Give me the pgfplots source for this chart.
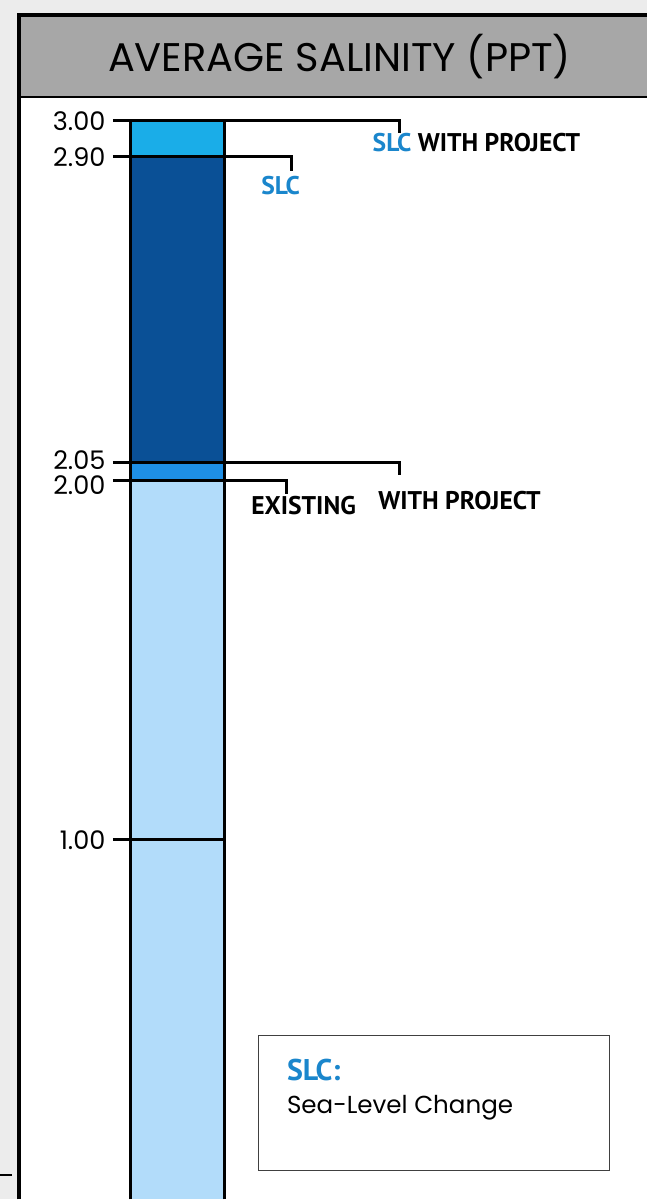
\documentclass[border=0pt]{standalone}
\usepackage{pgfplots}
\pgfplotsset{compat=1.18}
\usepackage{fontspec}
\setmainfont{Poppins}
\newfontfamily\labfont{PT Sans}
\definecolor{bgout}{HTML}{ECECEC}
\definecolor{titlegray}{HTML}{A7A7A7}
\definecolor{topblue}{HTML}{1AADE8}
\definecolor{darkblue}{HTML}{0A5096}
\definecolor{midblue}{HTML}{1E8FE6}
\definecolor{lightblue}{HTML}{B2DCFA}
\definecolor{slcblue}{HTML}{1A86CC}
\begin{document}
\begin{tikzpicture}
\begin{scope}[x=0.5pt,y=-0.5pt]
\useasboundingbox (0,0) rectangle (648,1201);
\fill[bgout] (0,0) rectangle (648,1201);
\fill[white] (19,15) rectangle (648,1201);
\fill[titlegray] (19,15) rectangle (648,97);
\draw[line width=2pt] (19,1201) -- (19,15) -- (648,15);
\draw[line width=1.2pt] (19,97) -- (648,97);
\draw[line width=1pt] (0,1177) -- (12,1177);
\node[font=\fontsize{20}{23}\selectfont] at (340,57) {AVERAGE SALINITY (PPT)};
\end{scope}
\begin{axis}[at={(0pt,-600.5pt)}, anchor=south west, scale only axis,
  width=324pt, height=540pt, xmin=0, xmax=648, ymin=0, ymax=3,
  axis lines=none, clip=false, ybar stacked, bar width=94]
\addplot[fill=lightblue, draw=none] coordinates {(178,2.00)};
\addplot[fill=midblue, draw=none] coordinates {(178,0.05)};
\addplot[fill=darkblue, draw=none] coordinates {(178,0.85)};
\addplot[fill=topblue, draw=none] coordinates {(178,0.10)};
\end{axis}
\begin{axis}[at={(0pt,-600.5pt)}, anchor=south west, scale only axis,
  width=324pt, height=540pt, xmin=0, xmax=648, ymin=0, ymax=3,
  axis lines=none, clip=false]
% bar outline
\draw[line width=1.6pt] (axis cs:131,0) -- (axis cs:131,3);
\draw[line width=1.6pt] (axis cs:225,0) -- (axis cs:225,3);
% tick / leader lines
\draw[line width=1.5pt] (axis cs:113,3) -- (axis cs:400,3) -- (axis cs:400,2.965);
\draw[line width=1.5pt] (axis cs:113,2.9) -- (axis cs:292,2.9) -- (axis cs:292,2.86);
\draw[line width=1.5pt] (axis cs:113,2.05) -- (axis cs:400,2.05) -- (axis cs:400,2.015);
\draw[line width=1.5pt] (axis cs:113,2.0) -- (axis cs:287,2.0) -- (axis cs:287,1.962);
\draw[line width=1.5pt] (axis cs:113,1.0) -- (axis cs:225,1.0);
% tick labels
\node[anchor=east, font=\fontsize{12.8}{14}\selectfont, inner sep=0pt] at (axis cs:106,3.0) {3.00};
\node[anchor=east, font=\fontsize{12.8}{14}\selectfont, inner sep=0pt] at (axis cs:106,2.9) {2.90};
\node[anchor=east, font=\fontsize{12.8}{14}\selectfont, inner sep=0pt] at (axis cs:106,2.057) {2.05};
\node[anchor=east, font=\fontsize{12.8}{14}\selectfont, inner sep=0pt] at (axis cs:106,1.988) {2.00};
\node[anchor=east, font=\fontsize{12.8}{14}\selectfont, inner sep=0pt] at (axis cs:106,1.0) {1.00};
% annotations
\node[font=\labfont\bfseries\fontsize{12.8}{14}\selectfont, inner sep=0pt] at (axis cs:477,2.94) {\textcolor{slcblue}{SLC} WITH PROJECT};
\node[font=\labfont\bfseries\fontsize{12.8}{14}\selectfont, inner sep=0pt, text=slcblue] at (axis cs:281,2.82) {SLC};
\node[font=\labfont\bfseries\fontsize{12.8}{14}\selectfont, inner sep=0pt] at (axis cs:304,1.93) {EXISTING};
\node[font=\labfont\bfseries\fontsize{12.8}{14}\selectfont, inner sep=0pt] at (axis cs:460,1.945) {WITH PROJECT};
% legend box
\draw[line width=0.6pt, black!75] (axis cs:259,0.08) rectangle (axis cs:610,0.455);
\node[anchor=west, inner sep=0pt, font=\labfont\bfseries\fontsize{15}{17}\selectfont, text=slcblue] at (axis cs:287,0.36) {SLC:};
\node[anchor=west, inner sep=0pt, font=\fontsize{12.3}{14}\selectfont] at (axis cs:287,0.255) {Sea-Level Change};
\end{axis}
\end{tikzpicture}
\end{document}
